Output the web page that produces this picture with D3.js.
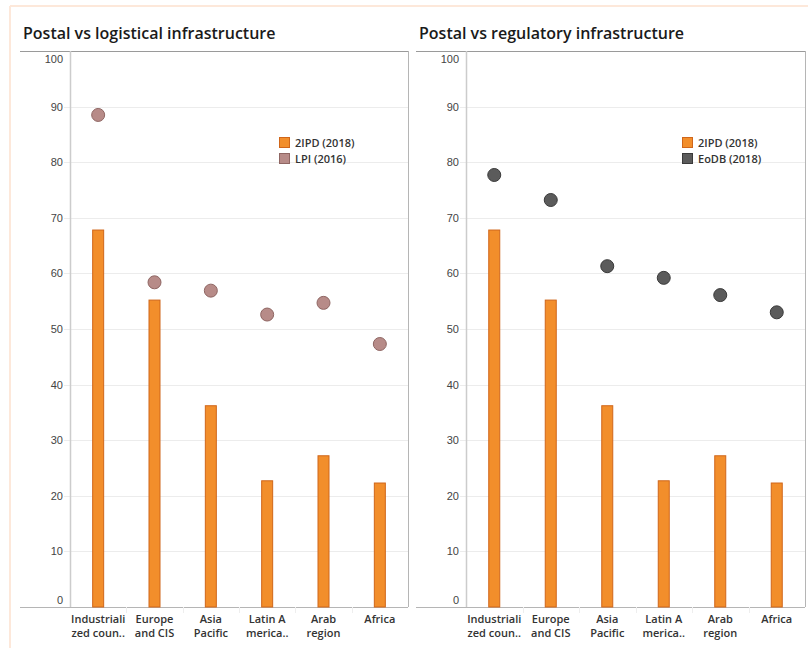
<!DOCTYPE html>
<html><head><meta charset="utf-8">
<script src="https://cdn.jsdelivr.net/npm/d3@7/dist/d3.min.js"></script>
<style>body{margin:0;background:#fff;}svg{display:block;}</style>
</head><body><svg id="c" width="808" height="648"></svg>
<script>
const categories = [["Industriali","zed coun.."],["Europe","and CIS"],["Asia","Pacific"],["Latin A","merica.."],["Arab","region"],["Africa"]];
const ipd2018 = [67.8, 55.2, 36.2, 22.7, 27.2, 22.3];
const lpi2016 = [88.5, 58.4, 56.9, 52.6, 54.7, 47.3];
const eodb2018 = [77.7, 73.2, 61.3, 59.2, 56.1, 53.0];
const yTicks = [0,10,20,30,40,50,60,70,80,90,100];
const titles = ["Postal vs logistical infrastructure","Postal vs regulatory infrastructure"];
const legendLabels = [["2IPD (2018)","LPI (2016)"],["2IPD (2018)","EoDB (2018)"]];

(function(){
const svg = d3.select("#c");
svg.append("line").attr("x1",10).attr("x2",808).attr("y1",6).attr("y2",6).attr("stroke","#fde8da").attr("stroke-width",2);
svg.append("line").attr("x1",10).attr("x2",10).attr("y1",6).attr("y2",648).attr("stroke","#fde8da").attr("stroke-width",2);

const panels = [
  {x0:20, axisX:70, right:408, titleX:23, dots:lpi2016, dotFill:"#b78b88", dotStroke:"#8f6663", legX:279},
  {x0:416, axisX:466, right:805, titleX:419, dots:eodb2018, dotFill:"#5b5b5b", dotStroke:"#3a3a3a", legX:682}
];
const plotTop = 51, plotBottom = 607;
const font = "'Open Sans', sans-serif";

panels.forEach((p, pi) => {
  const g = svg.append("g");
  const y = d3.scaleLinear().domain([0,100]).range([plotBottom, plotTop]);
  const x = d3.scaleBand().domain(d3.range(categories.length)).range([p.axisX, p.right]);

  g.append("text").attr("x", p.titleX).attr("y", 39).text(titles[pi])
    .attr("font-family", font).attr("font-size", 16).attr("font-weight", 600).attr("fill","#1a1a1a");

  g.append("g").selectAll("line").data(yTicks.filter(t=>t>0&&t<100)).join("line")
    .attr("x1", p.axisX-6).attr("x2", p.right).attr("y1", d=>Math.round(y(d))+0.5).attr("y2", d=>Math.round(y(d))+0.5)
    .attr("stroke","#ececec").attr("stroke-width",1);

  g.append("g").selectAll("text").data(yTicks).join("text")
    .attr("x", p.axisX-7)
    .attr("y", d => d===100 ? y(d)+12 : d===0 ? y(d)-3 : y(d)+4)
    .attr("text-anchor","end").attr("font-family","'Liberation Sans', Arial, sans-serif")
    .attr("font-size",11).attr("fill","#444").text(d=>d);

  g.append("line").attr("x1",p.x0).attr("x2",p.right).attr("y1",plotTop+0.5).attr("y2",plotTop+0.5).attr("stroke","#9a9a9a");
  g.append("line").attr("x1",p.right+0.5).attr("x2",p.right+0.5).attr("y1",plotTop).attr("y2",plotBottom).attr("stroke","#b5b5b5");
  g.append("line").attr("x1",p.axisX+0.5).attr("x2",p.axisX+0.5).attr("y1",plotTop).attr("y2",plotBottom).attr("stroke","#cccccc").attr("stroke-width",1.5);
  g.append("line").attr("x1",p.x0).attr("x2",p.right).attr("y1",plotBottom+0.5).attr("y2",plotBottom+0.5).attr("stroke","#b5b5b5");

  g.append("g").selectAll("line").data(d3.range(1,categories.length)).join("line")
    .attr("x1", d=>Math.round(x(d))+0.5).attr("x2", d=>Math.round(x(d))+0.5)
    .attr("y1", plotBottom).attr("y2", plotBottom+6).attr("stroke","#eeeeee");

  const bw = 11;
  g.append("g").selectAll("rect").data(ipd2018).join("rect")
    .attr("x", (d,i)=> x(i)+x.bandwidth()/2 - bw/2).attr("width", bw)
    .attr("y", d=>y(d)).attr("height", d=>plotBottom-y(d))
    .attr("fill","#f28e2b").attr("stroke","#d0661a").attr("stroke-width",1);

  g.append("g").selectAll("circle").data(p.dots).join("circle")
    .attr("cx",(d,i)=>x(i)+x.bandwidth()/2).attr("cy",d=>y(d)).attr("r",6.5)
    .attr("fill",p.dotFill).attr("stroke",p.dotStroke).attr("stroke-width",1);

  const cl = g.append("g").selectAll("text").data(categories).join("text")
    .attr("text-anchor","middle").attr("font-family",font).attr("font-size",11).attr("font-weight",600).attr("fill","#333");
  cl.each(function(lines,i){
    const t = d3.select(this);
    lines.forEach((ln,k)=>{
      t.append("tspan").attr("x", x(i)+x.bandwidth()/2).attr("y", 623+k*14).text(ln);
    });
  });

  const lg = g.append("g");
  const legFill = ["#f28e2b", p.dotFill], legStroke = ["#d0661a", p.dotStroke];
  legendLabels[pi].forEach((lab,k)=>{
    lg.append("rect").attr("x",p.legX+0.5).attr("y",137.5+k*16).attr("width",10).attr("height",10)
      .attr("fill",legFill[k]).attr("stroke",legStroke[k]);
    lg.append("text").attr("x",p.legX+16).attr("y",147+k*16).text(lab)
      .attr("font-family",font).attr("font-size",11).attr("font-weight",600).attr("fill","#333");
  });
});
})();
</script></body></html>
